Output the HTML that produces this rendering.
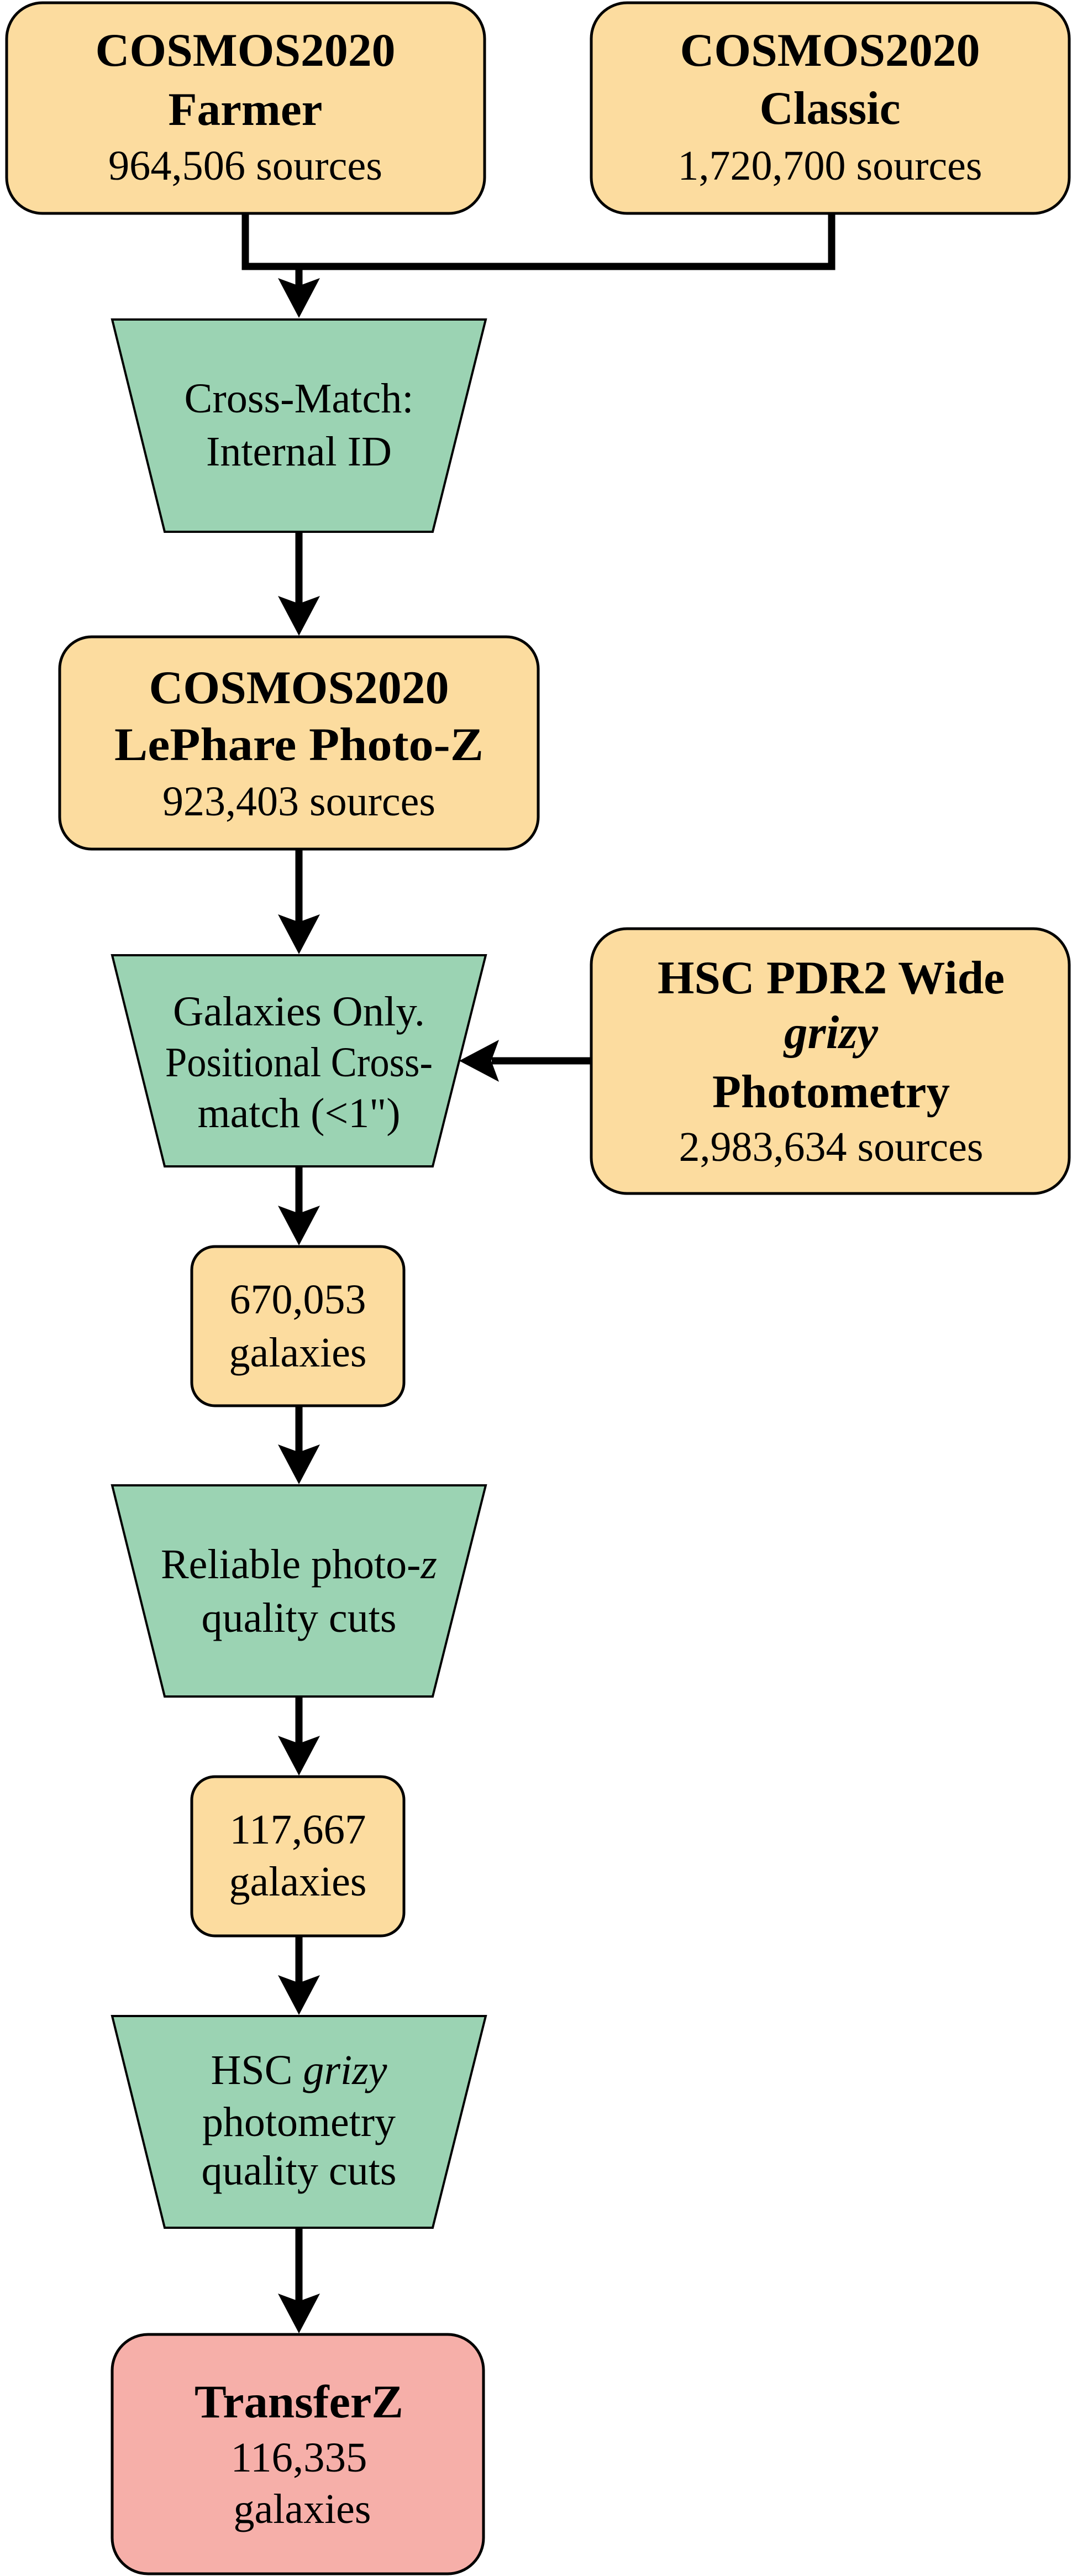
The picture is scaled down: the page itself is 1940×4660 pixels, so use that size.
<!DOCTYPE html>
<html><head><meta charset="utf-8"><style>
html,body{margin:0;padding:0;background:#fff}
svg{display:block}
text{font-family:"Liberation Serif","Times New Roman",serif;fill:#000}
.b{font-weight:bold;font-size:85px}
.r{font-size:76px}
</style></head><body>
<svg width="1940" height="4660" viewBox="0 0 1940 4660" xmlns="http://www.w3.org/2000/svg">
<g stroke="#000" stroke-width="5">
<rect x="12" y="5" width="865" height="381" rx="65" fill="#FCDC9F"/>
<rect x="1070" y="5" width="865" height="381" rx="65" fill="#FCDC9F"/>
<rect x="108" y="1152" width="866" height="384" rx="58" fill="#FCDC9F"/>
<rect x="1070" y="1680" width="865" height="479" rx="65" fill="#FCDC9F"/>
<rect x="347" y="2255" width="384" height="288" rx="42" fill="#FCDC9F"/>
<rect x="347" y="3214" width="384" height="288" rx="42" fill="#FCDC9F"/>
<rect x="203" y="4223" width="672" height="433" rx="65" fill="#F6AFA9"/>
</g>
<g stroke="#000" stroke-width="4" fill="#9BD3B3">
<polygon points="203,578 879,578 783,962 298,962"/>
<polygon points="203,1728 879,1728 783,2110 298,2110"/>
<polygon points="203,2687 879,2687 783,3069 298,3069"/>
<polygon points="203,3647 879,3647 783,4030 298,4030"/>
</g>
<g stroke="#000" stroke-width="13" fill="none">
<polyline points="444,386 444,482 1505,482 1505,386"/>
<line x1="541" y1="482" x2="541" y2="530"/>
<line x1="541" y1="962" x2="541" y2="1100"/>
<line x1="541" y1="1536" x2="541" y2="1670"/>
<line x1="541" y1="2110" x2="541" y2="2200"/>
<line x1="541" y1="2543" x2="541" y2="2630"/>
<line x1="541" y1="3069" x2="541" y2="3160"/>
<line x1="541" y1="3502" x2="541" y2="3590"/>
<line x1="541" y1="4030" x2="541" y2="4170"/>
<line x1="1070" y1="1919" x2="890" y2="1919"/>
</g>
<g fill="#000">
<path d="M541,575 L503,503 L541,517 L579,503 Z"/>
<path d="M541,1150 L503,1078 L541,1092 L579,1078 Z"/>
<path d="M541,1726 L503,1654 L541,1668 L579,1654 Z"/>
<path d="M541,2253 L503,2181 L541,2195 L579,2181 Z"/>
<path d="M541,2685 L503,2613 L541,2627 L579,2613 Z"/>
<path d="M541,3212 L503,3140 L541,3154 L579,3140 Z"/>
<path d="M541,3645 L503,3573 L541,3587 L579,3573 Z"/>
<path d="M541,4221 L503,4149 L541,4163 L579,4149 Z"/>
<path d="M831,1919 L903,1881 L889,1919 L903,1957 Z"/>
</g>
<g text-anchor="middle">
<text x="444" y="119" class="b" textLength="543" lengthAdjust="spacingAndGlyphs">COSMOS2020</text>
<text x="444" y="226" class="b" textLength="279" lengthAdjust="spacingAndGlyphs">Farmer</text>
<text x="444" y="325" class="r" textLength="496" lengthAdjust="spacingAndGlyphs">964,506 sources</text>
<text x="1502" y="119" class="b" textLength="543" lengthAdjust="spacingAndGlyphs">COSMOS2020</text>
<text x="1502" y="224" class="b" textLength="255" lengthAdjust="spacingAndGlyphs">Classic</text>
<text x="1502" y="325" class="r" textLength="551" lengthAdjust="spacingAndGlyphs">1,720,700 sources</text>
<text x="541" y="746" class="r" textLength="415" lengthAdjust="spacingAndGlyphs">Cross-Match:</text>
<text x="541" y="842" class="r" textLength="336" lengthAdjust="spacingAndGlyphs">Internal ID</text>
<text x="541" y="1272" class="b" textLength="543" lengthAdjust="spacingAndGlyphs">COSMOS2020</text>
<text x="541" y="1375" class="b" textLength="668" lengthAdjust="spacingAndGlyphs">LePhare Photo-Z</text>
<text x="541" y="1475" class="r" textLength="494" lengthAdjust="spacingAndGlyphs">923,403 sources</text>
<text x="541" y="1855" class="r" textLength="456" lengthAdjust="spacingAndGlyphs">Galaxies Only.</text>
<text x="541" y="1947" class="r" textLength="484" lengthAdjust="spacingAndGlyphs">Positional Cross-</text>
<text x="541" y="2039" class="r" textLength="367" lengthAdjust="spacingAndGlyphs">match (&lt;1")</text>
<text x="1504" y="1797" class="b" textLength="628" lengthAdjust="spacingAndGlyphs">HSC PDR2 Wide</text>
<text x="1504" y="1896" class="b" font-style="italic" textLength="170" lengthAdjust="spacingAndGlyphs">grizy</text>
<text x="1504" y="2003" class="b" textLength="430" lengthAdjust="spacingAndGlyphs">Photometry</text>
<text x="1504" y="2100" class="r" textLength="551" lengthAdjust="spacingAndGlyphs">2,983,634 sources</text>
<text x="539" y="2376" class="r" textLength="247" lengthAdjust="spacingAndGlyphs">670,053</text>
<text x="539" y="2472" class="r" textLength="249" lengthAdjust="spacingAndGlyphs">galaxies</text>
<text x="541" y="2855" class="r" textLength="500" lengthAdjust="spacingAndGlyphs">Reliable photo-<tspan font-style="italic">z</tspan></text>
<text x="541" y="2952" class="r" textLength="353" lengthAdjust="spacingAndGlyphs">quality cuts</text>
<text x="539" y="3335" class="r" textLength="247" lengthAdjust="spacingAndGlyphs">117,667</text>
<text x="539" y="3429" class="r" textLength="249" lengthAdjust="spacingAndGlyphs">galaxies</text>
<text x="541" y="3770" class="r" textLength="319" lengthAdjust="spacingAndGlyphs">HSC <tspan font-style="italic">grizy</tspan></text>
<text x="541" y="3864" class="r" textLength="350" lengthAdjust="spacingAndGlyphs">photometry</text>
<text x="541" y="3952" class="r" textLength="353" lengthAdjust="spacingAndGlyphs">quality cuts</text>
<text x="541" y="4373" class="b" textLength="378" lengthAdjust="spacingAndGlyphs">TransferZ</text>
<text x="541" y="4471" class="r" textLength="247" lengthAdjust="spacingAndGlyphs">116,335</text>
<text x="547" y="4564" class="r" textLength="249" lengthAdjust="spacingAndGlyphs">galaxies</text>
</g>
</svg>
</body></html>
